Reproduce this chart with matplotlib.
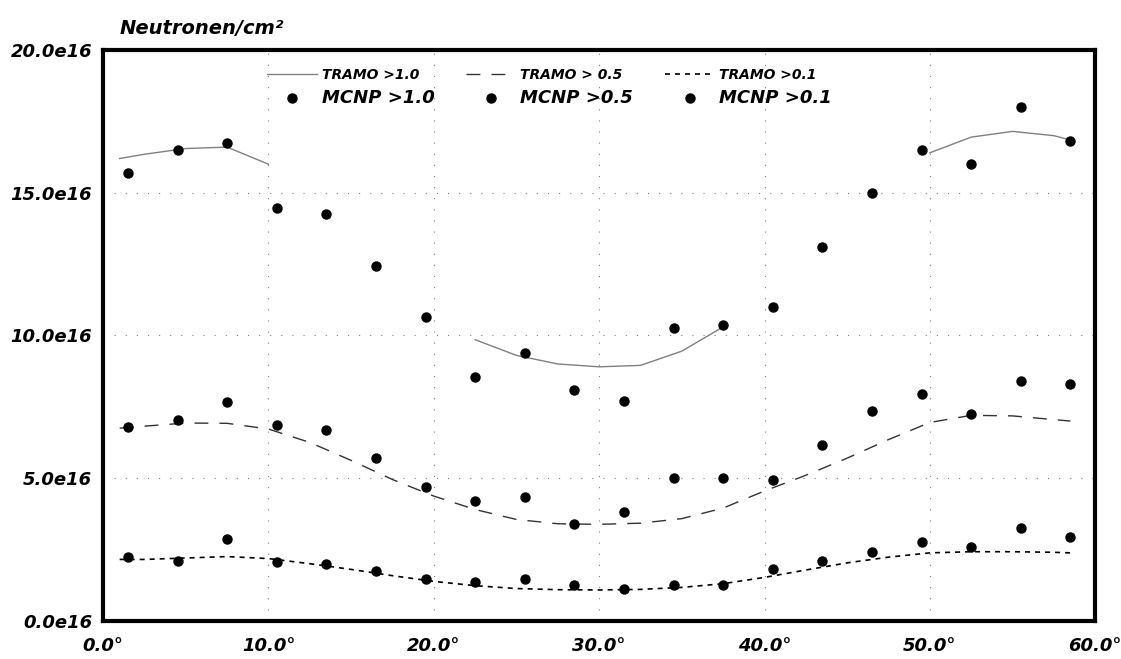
import matplotlib
matplotlib.use("Agg")
import matplotlib.pyplot as plt
import numpy as np

nan = np.nan

# MCNP results (units of 1e16 n/cm2), sampled every 3 degrees
mcnp_x = [1.5, 4.5, 7.5, 10.5, 13.5, 16.5, 19.5, 22.5, 25.5, 28.5,
          31.5, 34.5, 37.5, 40.5, 43.5, 46.5, 49.5, 52.5, 55.5, 58.5]
mcnp_10 = [15.7, 16.5, 16.75, 14.45, 14.25, 12.45, 10.65, 8.55, 9.4, 8.1,
           7.7, 10.25, 10.35, 11.0, 13.1, 15.0, 16.5, 16.0, 18.0, 16.8]
mcnp_05 = [6.8, 7.05, 7.65, 6.85, 6.7, 5.7, 4.7, 4.2, 4.35, 3.4,
           3.8, 5.0, 5.0, 4.95, 6.15, 7.35, 7.95, 7.25, 8.4, 8.3]
mcnp_01 = [2.25, 2.1, 2.85, 2.05, 2.0, 1.75, 1.45, 1.35, 1.45, 1.25,
           1.1, 1.25, 1.25, 1.8, 2.1, 2.4, 2.75, 2.6, 3.25, 2.95]

# TRAMO curves (gaps where the curve is not visible)
tramo_x = [1, 2.5, 5, 7.5, 10, 12.5, 15, 17.5, 20, 22.5, 25, 27.5, 30,
           32.5, 35, 37.5, 40, 42.5, 45, 47.5, 50, 52.5, 55, 57.5, 58.5]
tramo_10 = [16.2, 16.35, 16.55, 16.6, 16.0, nan, nan, nan, nan, 9.85, 9.3, 9.0, 8.9,
            8.95, 9.45, 10.3, nan, nan, nan, nan, 16.4, 16.95, 17.15, 17.0, 16.85]
tramo_05 = [6.75, 6.82, 6.93, 6.92, 6.72, 6.25, 5.62, 4.95, 4.37, 3.9, 3.55, 3.4, 3.38,
            3.42, 3.58, 3.95, 4.55, 5.1, 5.7, 6.35, 6.95, 7.2, 7.18, 7.05, 7.0]
tramo_01 = [2.15, 2.15, 2.2, 2.25, 2.18, 2.0, 1.8, 1.58, 1.38, 1.23, 1.13, 1.09, 1.08,
            1.1, 1.17, 1.3, 1.52, 1.78, 2.03, 2.23, 2.38, 2.42, 2.42, 2.4, 2.38]

x_ticks = [0, 10, 20, 30, 40, 50, 60]
y_ticks = [0, 5, 10, 15, 20]

font = dict(family="DejaVu Sans", weight="bold", style="oblique")

fig = plt.figure(figsize=(11.21, 6.59), dpi=100)
ax = fig.add_axes([0.092, 0.058, 0.885, 0.866])

ax.plot(tramo_x, tramo_10, color="0.5", lw=1.0, label="TRAMO >1.0")
ax.plot(mcnp_x, mcnp_10, "o", color="black", ms=6.5, label="MCNP >1.0")
ax.plot(tramo_x, tramo_05, color="0.2", lw=1.0, ls=(0, (10, 8)), label="TRAMO > 0.5")
ax.plot(mcnp_x, mcnp_05, "o", color="black", ms=6.5, label="MCNP >0.5")
ax.plot(tramo_x, tramo_01, color="black", lw=1.2, ls=(0, (3, 3)), label="TRAMO >0.1")
ax.plot(mcnp_x, mcnp_01, "o", color="black", ms=6.5, label="MCNP >0.1")

ax.set_xlim(0, 60)
ax.set_ylim(0, 20)
ax.set_xticks(x_ticks)
ax.set_yticks(y_ticks)
ax.set_xticklabels([f"{v:.1f}°" for v in x_ticks], fontsize=13, **font)
ax.set_yticklabels([f"{v:.1f}e16" for v in y_ticks], fontsize=13, **font)
ax.tick_params(length=0)
ax.tick_params(axis="y", pad=8)
ax.tick_params(axis="x", pad=12)

ax.grid(True, color="0.5", lw=0.8, ls=(0, (1, 9)))
for s in ax.spines.values():
    s.set_linewidth(3)

fig.text(0.107, 0.943, "Neutronen/cm²", fontsize=14, ha="left", va="bottom", **font)

leg = ax.legend(ncol=3, loc="upper left", bbox_to_anchor=(0.16, 0.978), frameon=False,
                handlelength=3.6, handletextpad=0.3, columnspacing=2.3,
                labelspacing=0.5, borderaxespad=0)
for t in leg.get_texts():
    t.set_fontfamily("DejaVu Sans")
    t.set_fontweight("bold")
    t.set_fontstyle("oblique")
    t.set_fontsize(13 if t.get_text().startswith("MCNP") else 10)

fig.savefig("out.png", dpi=100)
